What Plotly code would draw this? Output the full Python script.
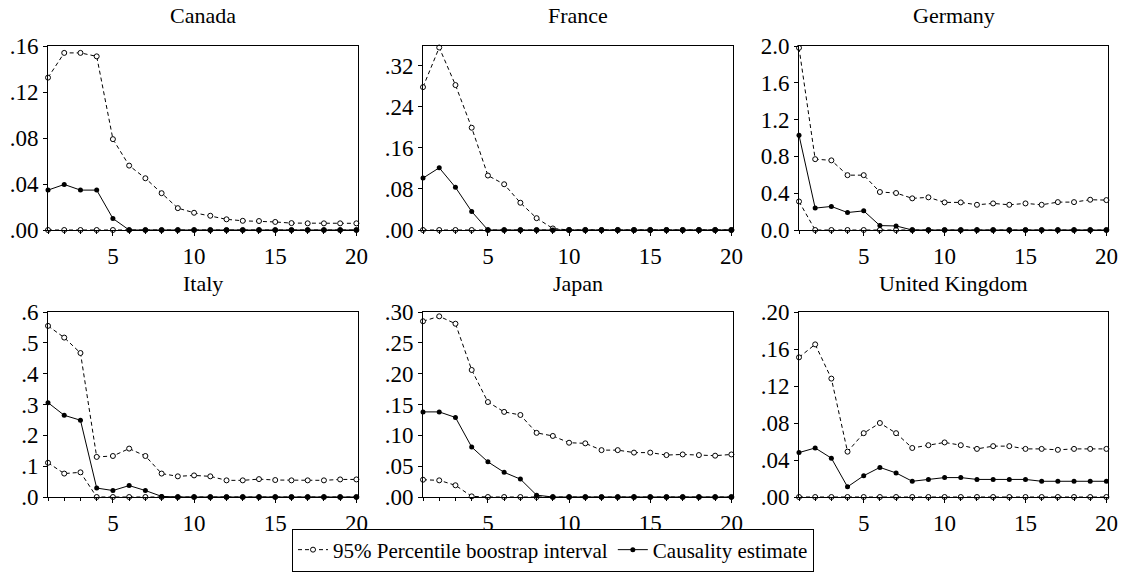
import plotly.graph_objects as go

x = list(range(1, 21))

countries = ["Canada", "France", "Germany", "Italy", "Japan", "United Kingdom"]

canada_upper = [0.1325, 0.154, 0.154, 0.151, 0.079, 0.056, 0.045, 0.032, 0.019, 0.015,
                0.0124, 0.0093, 0.008, 0.0078, 0.007, 0.006, 0.0058, 0.0058, 0.0058, 0.0058]
canada_est = [0.0347, 0.0396, 0.0347, 0.0347, 0.010] + [0.0] * 15
canada_lower = [0.0] * 20

france_upper = [0.278, 0.355, 0.282, 0.199, 0.106, 0.089, 0.053, 0.023, 0.003] + [0.0] * 11
france_est = [0.101, 0.121, 0.083, 0.036] + [0.0] * 16
france_lower = [0.0] * 20

germany_upper = [1.98, 0.77, 0.757, 0.596, 0.596, 0.413, 0.402, 0.344, 0.355, 0.30,
                 0.30, 0.274, 0.289, 0.274, 0.289, 0.274, 0.303, 0.303, 0.329, 0.325]
germany_est = [1.03, 0.238, 0.256, 0.19, 0.208, 0.048, 0.044] + [0.0] * 13
germany_lower = [0.31] + [0.0] * 19

italy_upper = [0.555, 0.517, 0.467, 0.130, 0.133, 0.157, 0.133, 0.076, 0.067, 0.070,
               0.067, 0.054, 0.054, 0.058, 0.055, 0.054, 0.054, 0.054, 0.057, 0.057]
italy_est = [0.306, 0.265, 0.249, 0.029, 0.021, 0.037, 0.021, 0.002] + [0.0] * 12
italy_lower = [0.111, 0.076, 0.080] + [0.0] * 17

japan_upper = [0.285, 0.293, 0.281, 0.206, 0.154, 0.138, 0.133, 0.104, 0.099, 0.088,
               0.087, 0.076, 0.076, 0.072, 0.072, 0.068, 0.069, 0.068, 0.067, 0.069]
japan_est = [0.138, 0.138, 0.129, 0.081, 0.057, 0.040, 0.029, 0.003] + [0.0] * 12
japan_lower = [0.028, 0.027, 0.019, 0.001] + [0.0] * 16

uk_upper = [0.151, 0.165, 0.128, 0.049, 0.069, 0.080, 0.069, 0.053, 0.056, 0.059,
            0.056, 0.052, 0.055, 0.055, 0.052, 0.052, 0.051, 0.052, 0.052, 0.052]
uk_est = [0.048, 0.053, 0.042, 0.011, 0.023, 0.032, 0.026, 0.017, 0.019, 0.021,
          0.021, 0.019, 0.019, 0.019, 0.019, 0.017, 0.017, 0.017, 0.017, 0.017]
uk_lower = [0.0] * 20

uppers = [canada_upper, france_upper, germany_upper, italy_upper, japan_upper, uk_upper]
ests = [canada_est, france_est, germany_est, italy_est, japan_est, uk_est]
lowers = [canada_lower, france_lower, germany_lower, italy_lower, japan_lower, uk_lower]

y_tickvals = [
    [0.0, 0.04, 0.08, 0.12, 0.16],
    [0.0, 0.08, 0.16, 0.24, 0.32],
    [0.0, 0.4, 0.8, 1.2, 1.6, 2.0],
    [0.0, 0.1, 0.2, 0.3, 0.4, 0.5, 0.6],
    [0.0, 0.05, 0.10, 0.15, 0.20, 0.25, 0.30],
    [0.0, 0.04, 0.08, 0.12, 0.16, 0.20],
]
y_ticktext = [
    [".00", ".04", ".08", ".12", ".16"],
    [".00", ".08", ".16", ".24", ".32"],
    ["0.0", "0.4", "0.8", "1.2", "1.6", "2.0"],
    [".0", ".1", ".2", ".3", ".4", ".5", ".6"],
    [".00", ".05", ".10", ".15", ".20", ".25", ".30"],
    [".00", ".04", ".08", ".12", ".16", ".20"],
]
y_ranges = [[0, 0.16], [0, 0.358], [0, 2.0], [0, 0.6], [0, 0.30], [0, 0.20]]
x_ticks = [5, 10, 15, 20]

W, H = 1126, 572
col_px = [(48, 358), (423, 733), (799, 1108)]
row_px = [(46, 230), (312, 497)]
title_y_px = [15, 283]

FONT = '"Liberation Serif", "Times New Roman", Tinos, "DejaVu Serif", serif'

fig = go.Figure()
annotations = []
for i, name in enumerate(countries):
    r, c = divmod(i, 3)
    ax = "" if i == 0 else str(i + 1)
    xref, yref = "x" + ax, "y" + ax
    x0, x1 = col_px[c]
    top, bot = row_px[r]
    dash_line = dict(color="black", width=1, dash="4px,3px")
    open_marker = dict(symbol="circle", size=5, color="white", line=dict(color="black", width=1))
    fig.add_trace(go.Scatter(x=x, y=lowers[i], mode="lines+markers", line=dash_line,
                             marker=open_marker, xaxis=xref, yaxis=yref, cliponaxis=False,
                             showlegend=False, name="95% Percentile boostrap interval"))
    fig.add_trace(go.Scatter(x=x, y=uppers[i], mode="lines+markers", line=dash_line,
                             marker=open_marker, xaxis=xref, yaxis=yref, cliponaxis=False,
                             showlegend=(i == 0), name="95% Percentile boostrap interval"))
    fig.add_trace(go.Scatter(x=x, y=ests[i], mode="lines+markers",
                             line=dict(color="black", width=1),
                             marker=dict(symbol="circle", size=5, color="black"),
                             xaxis=xref, yaxis=yref, cliponaxis=False,
                             showlegend=(i == 0), name="Causality estimate"))
    xa = dict(domain=[x0 / W, x1 / W], range=[1, 20.1], anchor=yref,
              tickvals=x_ticks, ticks="outside", ticklen=5, tickcolor="black",
              minor=dict(dtick=1, tick0=0, ticks="outside", ticklen=3, tickcolor="black"),
              showline=True, linecolor="black", linewidth=1, mirror=True,
              showgrid=False, zeroline=False,
              tickfont=dict(family=FONT, size=23, color="black"))
    ya = dict(domain=[1 - bot / H, 1 - top / H], range=y_ranges[i], anchor=xref,
              tickvals=y_tickvals[i], ticktext=y_ticktext[i], ticks="outside", ticklen=4,
              tickcolor="black",
              showline=True, linecolor="black", linewidth=1, mirror=True,
              showgrid=False, zeroline=False,
              tickfont=dict(family=FONT, size=23, color="black"))
    fig.layout["xaxis" + ax] = xa
    fig.layout["yaxis" + ax] = ya
    annotations.append(dict(text=name, x=(x0 + x1) / 2 / W, y=1 - title_y_px[r] / H,
                            xref="paper", yref="paper", xanchor="center", yanchor="middle",
                            showarrow=False, font=dict(family=FONT, size=22, color="black")))

fig.update_layout(
    width=W, height=H, margin=dict(l=0, r=0, t=0, b=0, autoexpand=False),
    paper_bgcolor="white", plot_bgcolor="white",
    font=dict(family=FONT, color="black"),
    annotations=annotations,
    showlegend=True,
    legend=dict(orientation="h", xref="container", yref="container",
                x=553 / W, y=1 - 550 / H, xanchor="center", yanchor="middle",
                bordercolor="black", borderwidth=1, itemwidth=30,
                font=dict(family=FONT, size=21, color="black"), bgcolor="white",
                tracegroupgap=0),
)

fig.write_html("out.html", config={"displayModeBar": False},
               post_script="document.body.style.margin='0';document.body.style.padding='0';")
